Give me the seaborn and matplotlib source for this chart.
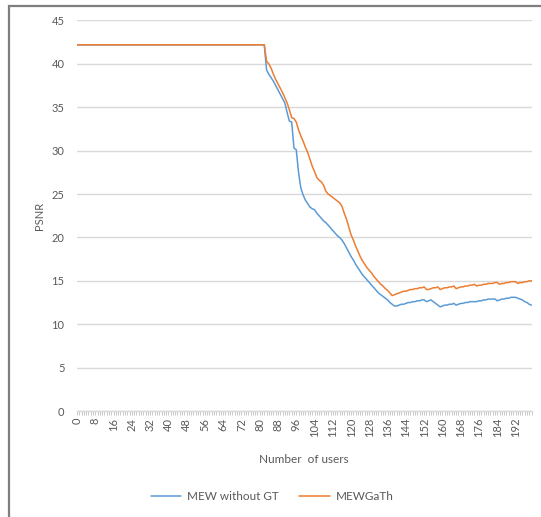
import matplotlib
matplotlib.use("Agg")
import matplotlib.pyplot as plt
from matplotlib.patches import Rectangle
from matplotlib.lines import Line2D
import seaborn as sns
import pandas as pd

# Number of users (category axis) and PSNR for both schemes
users = list(range(200))

psnr_mew_without_gt = [
    42.2, 42.2, 42.2, 42.2, 42.2, 42.2, 42.2, 42.2, 42.2, 42.2,
    42.2, 42.2, 42.2, 42.2, 42.2, 42.2, 42.2, 42.2, 42.2, 42.2,
    42.2, 42.2, 42.2, 42.2, 42.2, 42.2, 42.2, 42.2, 42.2, 42.2,
    42.2, 42.2, 42.2, 42.2, 42.2, 42.2, 42.2, 42.2, 42.2, 42.2,
    42.2, 42.2, 42.2, 42.2, 42.2, 42.2, 42.2, 42.2, 42.2, 42.2,
    42.2, 42.2, 42.2, 42.2, 42.2, 42.2, 42.2, 42.2, 42.2, 42.2,
    42.2, 42.2, 42.2, 42.2, 42.2, 42.2, 42.2, 42.2, 42.2, 42.2,
    42.2, 42.2, 42.2, 42.2, 42.2, 42.2, 42.2, 42.2, 42.2, 42.2,
    42.2, 42.2, 42.2, 39.3, 38.8, 38.4, 38.0, 37.5, 37.0, 36.5,
    36.0, 35.5, 34.4, 33.4, 33.3, 30.3, 30.1, 27.5, 25.7, 24.9,
    24.3, 23.9, 23.5, 23.3, 23.2, 22.8, 22.5, 22.2, 21.9, 21.7,
    21.4, 21.1, 20.8, 20.5, 20.2, 20.0, 19.7, 19.3, 18.8, 18.3,
    17.8, 17.4, 16.9, 16.5, 16.1, 15.7, 15.4, 15.1, 14.8, 14.5,
    14.2, 13.9, 13.6, 13.4, 13.2, 13.0, 12.8, 12.5, 12.3, 12.1,
    12.1, 12.2, 12.3, 12.3, 12.4, 12.5, 12.5, 12.6, 12.6, 12.7,
    12.7, 12.8, 12.8, 12.6, 12.7, 12.8, 12.6, 12.4, 12.2, 12.0,
    12.1, 12.2, 12.2, 12.3, 12.3, 12.4, 12.2, 12.3, 12.4, 12.4,
    12.5, 12.5, 12.6, 12.6, 12.6, 12.6, 12.7, 12.7, 12.8, 12.8,
    12.9, 12.9, 12.9, 12.9, 12.7, 12.8, 12.9, 12.9, 13.0, 13.0,
    13.1, 13.1, 13.1, 13.0, 12.9, 12.8, 12.6, 12.5, 12.3, 12.2,
]

psnr_mewgath = [
    42.2, 42.2, 42.2, 42.2, 42.2, 42.2, 42.2, 42.2, 42.2, 42.2,
    42.2, 42.2, 42.2, 42.2, 42.2, 42.2, 42.2, 42.2, 42.2, 42.2,
    42.2, 42.2, 42.2, 42.2, 42.2, 42.2, 42.2, 42.2, 42.2, 42.2,
    42.2, 42.2, 42.2, 42.2, 42.2, 42.2, 42.2, 42.2, 42.2, 42.2,
    42.2, 42.2, 42.2, 42.2, 42.2, 42.2, 42.2, 42.2, 42.2, 42.2,
    42.2, 42.2, 42.2, 42.2, 42.2, 42.2, 42.2, 42.2, 42.2, 42.2,
    42.2, 42.2, 42.2, 42.2, 42.2, 42.2, 42.2, 42.2, 42.2, 42.2,
    42.2, 42.2, 42.2, 42.2, 42.2, 42.2, 42.2, 42.2, 42.2, 42.2,
    42.2, 42.2, 42.2, 40.3, 40.0, 39.5, 38.8, 38.2, 37.7, 37.2,
    36.7, 36.1, 35.5, 34.7, 33.8, 33.7, 33.3, 32.4, 31.7, 31.1,
    30.4, 29.8, 29.0, 28.2, 27.6, 26.9, 26.6, 26.4, 26.0, 25.3,
    25.0, 24.8, 24.6, 24.4, 24.2, 24.0, 23.6, 22.8, 22.1, 21.2,
    20.3, 19.7, 19.0, 18.4, 17.8, 17.3, 16.9, 16.5, 16.2, 15.9,
    15.5, 15.2, 14.9, 14.6, 14.4, 14.1, 13.9, 13.6, 13.3, 13.4,
    13.5, 13.6, 13.7, 13.8, 13.8, 13.9, 14.0, 14.0, 14.1, 14.1,
    14.2, 14.2, 14.3, 14.0, 14.0, 14.1, 14.2, 14.2, 14.3, 14.0,
    14.1, 14.2, 14.2, 14.3, 14.3, 14.4, 14.1, 14.2, 14.3, 14.3,
    14.4, 14.4, 14.5, 14.5, 14.6, 14.4, 14.5, 14.5, 14.6, 14.6,
    14.7, 14.7, 14.7, 14.8, 14.8, 14.6, 14.7, 14.7, 14.8, 14.8,
    14.9, 14.9, 14.9, 14.7, 14.8, 14.8, 14.9, 14.9, 15.0, 15.0,
]

series_names = ["MEW without GT", "MEWGaTh"]
series_colors = ["#5B9BD5", "#ED7D31"]
y_ticks = [0, 5, 10, 15, 20, 25, 30, 35, 40, 45]
x_label_step = 8

df = pd.concat([
    pd.DataFrame({"users": users, "PSNR": psnr_mew_without_gt, "scheme": series_names[0]}),
    pd.DataFrame({"users": users, "PSNR": psnr_mewgath, "scheme": series_names[1]}),
])

sns.set_theme(style="white")
plt.rcParams["font.family"] = ["Lato", "DejaVu Sans"]

W, H = 541, 517
fig = plt.figure(figsize=(W / 100, H / 100), dpi=100)
ax = fig.add_axes([77 / W, 1 - 411 / H, (531.5 - 77) / W, (411 - 20.5) / H])

sns.lineplot(data=df, x="users", y="PSNR", hue="scheme", hue_order=series_names,
             palette=series_colors, linewidth=1.1, ax=ax, legend=False)

text_color = "#595959"
grid_color = "#d9d9d9"

ax.set_xlim(users[0], users[-1])
ax.set_ylim(y_ticks[0], y_ticks[-1])
ax.set_yticks(y_ticks)
ax.yaxis.grid(True, color=grid_color, linewidth=1.0)
ax.xaxis.grid(False)
ax.set_axisbelow(True)

ax.set_xticks(users)
ax.set_xticklabels([str(u) if u % x_label_step == 0 else "" for u in users],
                   rotation=90, fontsize=8, color=text_color)
ax.tick_params(axis="x", length=3, width=0.6, color="#bfbfbf", pad=2, bottom=True)
ax.tick_params(axis="y", length=0, pad=9, labelsize=8, labelcolor=text_color)

for side in ["left", "right", "top"]:
    ax.spines[side].set_visible(False)
ax.spines["bottom"].set_color(grid_color)
ax.spines["bottom"].set_linewidth(1.0)

ax.set_xlabel("Number  of users", fontsize=8.5, color=text_color, labelpad=12)
ax.set_ylabel("PSNR", fontsize=8, color=text_color, labelpad=5)

handles = [Line2D([0], [0], color=c, lw=1.1) for c in series_colors]
fig.legend(handles, series_names, loc="center", bbox_to_anchor=(0.503, 1 - 497 / H),
           ncol=2, frameon=False, fontsize=8.5, labelcolor=text_color,
           handlelength=2.6, columnspacing=1.7, handletextpad=0.5)

# chart-area frame
fig.patches.append(Rectangle((8.5 / W, -0.05), 1.2, 1 - 5.5 / H + 0.05,
                             transform=fig.transFigure, fill=False,
                             edgecolor="#7f7f7f", linewidth=1.6))

fig.savefig("out.png", dpi=100, facecolor="white")
